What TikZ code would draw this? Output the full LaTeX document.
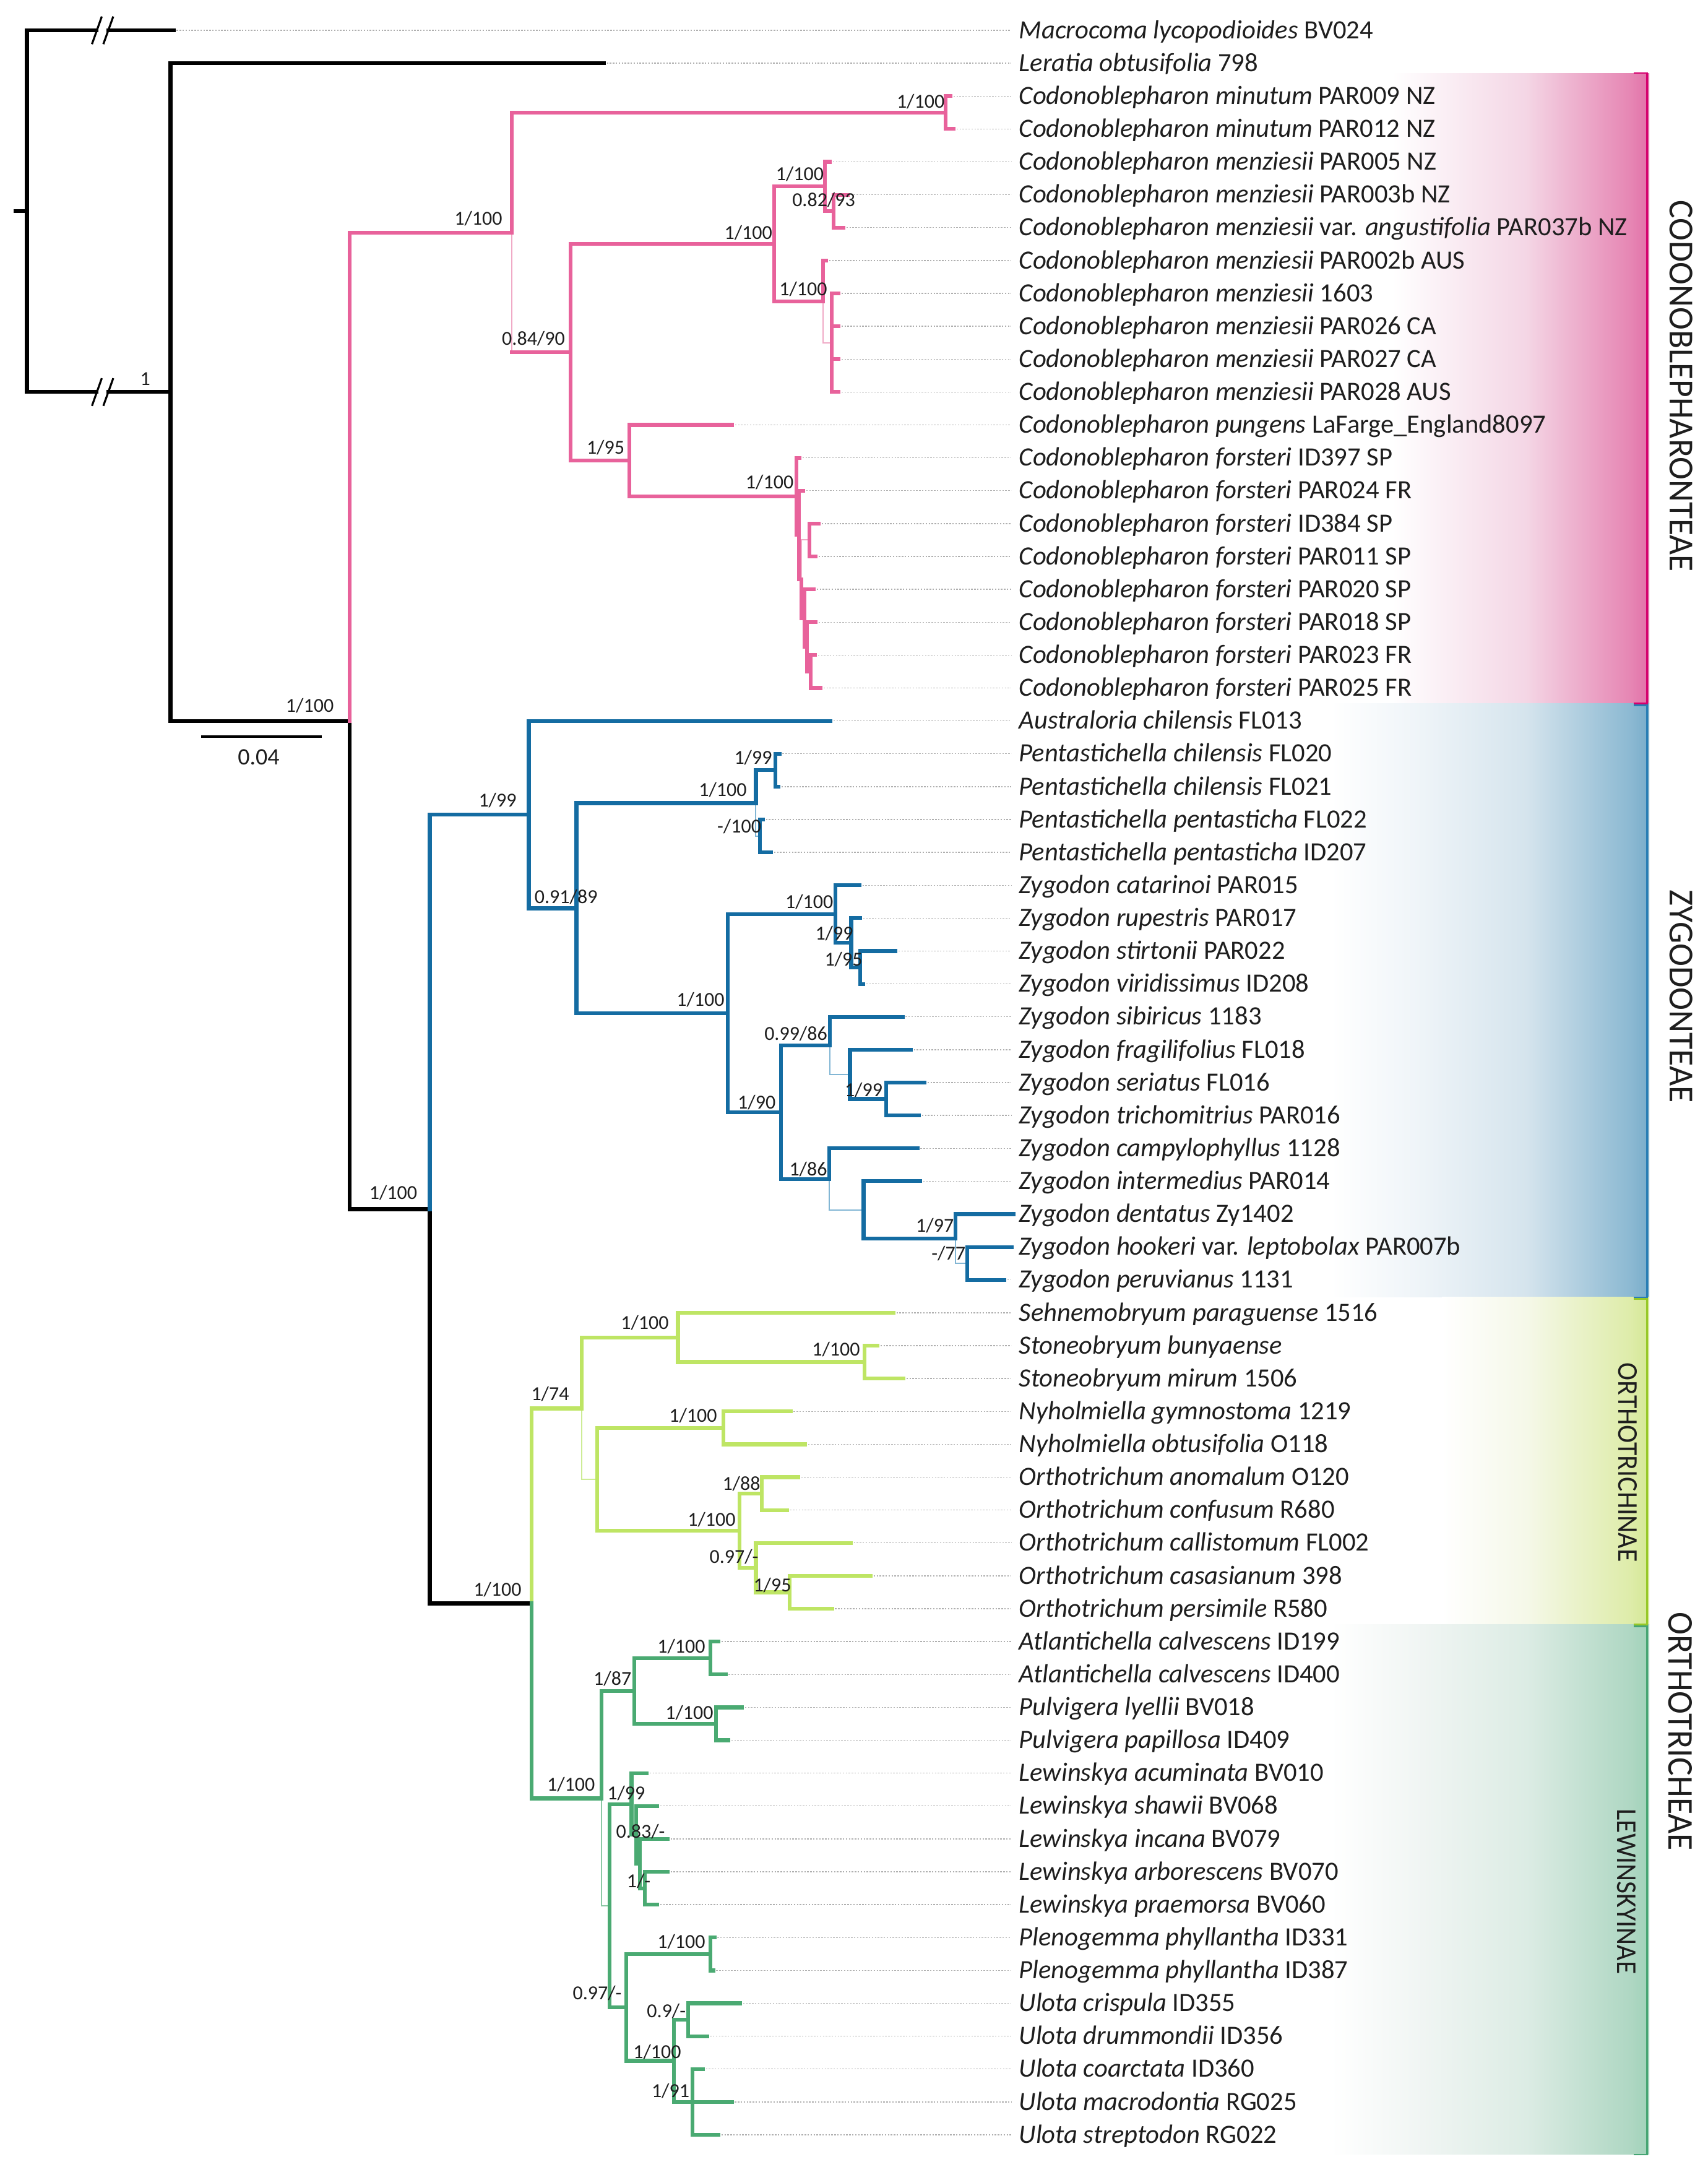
\documentclass[tikz,border=0pt]{standalone}
\usepackage{fontspec}
\setmainfont{Carlito}
\usepackage{graphicx}
\definecolor{pk}{RGB}{232,98,155}
\definecolor{pkw}{RGB}{240,170,198}
\definecolor{bl}{RGB}{20,108,162}
\definecolor{blw}{RGB}{130,182,212}
\definecolor{lg}{RGB}{190,229,100}
\definecolor{lgw}{RGB}{205,236,150}
\definecolor{gn}{RGB}{74,170,114}
\definecolor{gnw}{RGB}{140,200,165}
\definecolor{guidec}{RGB}{175,175,175}
\definecolor{txt}{RGB}{30,30,30}
\definecolor{pkA}{RGB}{244,214,229}
\definecolor{pkB}{RGB}{230,135,180}
\definecolor{pkC}{RGB}{226,112,168}
\definecolor{pkL}{RGB}{213,0,110}
\definecolor{bA}{RGB}{238,244,248}
\definecolor{bB}{RGB}{213,228,237}
\definecolor{bC}{RGB}{140,185,210}
\definecolor{bD}{RGB}{120,172,202}
\definecolor{bL}{RGB}{40,125,180}
\definecolor{lA}{RGB}{245,248,232}
\definecolor{lB}{RGB}{222,236,170}
\definecolor{lC}{RGB}{212,232,150}
\definecolor{lL}{RGB}{150,200,40}
\definecolor{gA}{RGB}{240,245,243}
\definecolor{gB}{RGB}{220,236,228}
\definecolor{gC}{RGB}{175,215,195}
\definecolor{gD}{RGB}{160,210,185}
\definecolor{gL}{RGB}{70,165,115}
\pgfdeclarehorizontalshading{pinksh}{100bp}{color(0bp)=(white); color(25bp)=(white); color(51bp)=(pkA); color(71.15bp)=(pkB); color(75bp)=(pkC); color(100bp)=(pkC)}
\pgfdeclarehorizontalshading{bluesh}{100bp}{color(0bp)=(white); color(25bp)=(white); color(39.5bp)=(bA); color(55.75bp)=(bB); color(72bp)=(bC); color(75bp)=(bD); color(100bp)=(bD)}
\pgfdeclarehorizontalshading{lgsh}{100bp}{color(0bp)=(white); color(25bp)=(white); color(45.5bp)=(lA); color(70.25bp)=(lB); color(75bp)=(lC); color(100bp)=(lC)}
\pgfdeclarehorizontalshading{gnsh}{100bp}{color(0bp)=(white); color(25bp)=(white); color(39.5bp)=(gA); color(55.75bp)=(gB); color(72bp)=(gC); color(75bp)=(gD); color(100bp)=(gD)}
\newcommand\leaffont{\fontsize{10.65}{12}\selectfont}
\newcommand\supfont{\fontsize{8}{9.6}\selectfont}
\begin{document}
\begin{tikzpicture}[x=0.25pt,y=-13.28125pt,
  bk/.style={line width=1.55pt,black,line cap=rect},
  pkb/.style={line width=1.55pt,pk,line cap=rect},
  blb/.style={line width=1.55pt,bl,line cap=rect},
  lgb/.style={line width=1.55pt,lg,line cap=rect},
  gnb/.style={line width=1.55pt,gn,line cap=rect},
  pkweak/.style={line width=0.5pt,pkw},
  blweak/.style={line width=0.5pt,blw},
  lgweak/.style={line width=0.5pt,lgw},
  gnweak/.style={line width=0.5pt,gnw},
  guide/.style={line width=0.35pt,guidec,dash pattern=on 0.6pt off 0.6pt,shorten >=1.5pt},
  leaf/.style={anchor=base west,inner sep=1.5pt,yshift=-3.3pt,font=\leaffont,text=txt},
  sup/.style={inner sep=0pt,font=\supfont,text=txt},
  slash/.style={line width=0.8pt,black},
  bracketline/.style={line width=0.7pt},
]
\useasboundingbox (0,-0.9224) rectangle (2760,65.3741);

% ---------- clade bands ----------
\shade[shading=pinksh] (2250,1.3) rectangle (2665,20.47);
\shade[shading=bluesh] (2150,20.47) rectangle (2665,38.53);
\shade[shading=lgsh] (2330,38.53) rectangle (2665,48.48);
\shade[shading=gnsh] (2150,48.48) rectangle (2665,64.6);
\draw[bracketline,pkL] (2640,1.3) -- (2661.7,1.3) -- (2661.7,20.47) -- (2640,20.47);
\draw[bracketline,bL] (2640,20.52) -- (2661.7,20.52) -- (2661.7,38.53) -- (2640,38.53);
\draw[bracketline,lL] (2640,38.58) -- (2661.7,38.58) -- (2661.7,48.48) -- (2640,48.48);
\draw[bracketline,gL] (2640,48.53) -- (2661.7,48.53) -- (2661.7,64.6) -- (2640,64.6);

\node[rotate=-90,inner sep=0pt,text=txt] (g1) at (2716.5,10.82) {\resizebox{150pt}{9.2pt}{CODONOBLEPHARONTEAE}};
\node[rotate=-90,inner sep=0pt,text=txt] (g2) at (2716.5,29.38) {\resizebox{86pt}{9.2pt}{ZYGODONTEAE}};
\node[rotate=-90,inner sep=0pt,text=txt] (g3) at (2630,43.55) {\resizebox{80.5pt}{7.5pt}{ORTHOTRICHINAE}};
\node[rotate=-90,inner sep=0pt,text=txt] (g4) at (2628,56.6) {\resizebox{66.7pt}{7.5pt}{LEWINSKYINAE}};
\node[rotate=-90,inner sep=0pt,text=txt] (g5) at (2715.5,51.73) {\resizebox{96.5pt}{9.5pt}{ORTHOTRICHEAE}};

% ---------- internal nodes ----------
\coordinate (stub) at (25.5,5.5);
\coordinate (root) at (43.4,5.5);
\coordinate (I) at (275.5,11);
\coordinate (X) at (565,21);
\coordinate (R) at (694.5,35.85);
\coordinate (O) at (859,47.84);
% Codonoblepharonteae
\coordinate (Cn) at (827,6.15);
\coordinate (Mi) at (1528,2.5);
\coordinate (C2) at (922,9.79);
\coordinate (M) at (1251,6.5);
\coordinate (M1) at (1332.6,4.75);
\coordinate (M1b) at (1347,5.5);
\coordinate (M2) at (1329.7,8.25);
\coordinate (M2b) at (1344,9.5);
\coordinate (F) at (1017,13.085);
\coordinate (Fo) at (1287,14.17);
\coordinate (Fo2) at (1291,15.34);
\coordinate (Fo3) at (1295,16.69);
\coordinate (P) at (1308,15.5);
\coordinate (Fo4) at (1300,17.875);
\coordinate (Fo5) at (1304,18.75);
\coordinate (Fo6) at (1310,19.5);
% Zygodonteae
\coordinate (Z) at (854.4,23.85);
\coordinate (Z2) at (931.5,26.7);
\coordinate (Pe) at (1221.4,23.5);
\coordinate (Pe1) at (1252.8,22.5);
\coordinate (Pe2) at (1228,24.5);
\coordinate (Zy) at (1175.9,29.89);
\coordinate (Zc) at (1350,26.875);
\coordinate (Zc2) at (1375.4,27.75);
\coordinate (Zc3) at (1390,28.5);
\coordinate (Zs) at (1261.6,32.91);
\coordinate (Zs1) at (1341.3,30.875);
\coordinate (Zs1b) at (1373.4,31.75);
\coordinate (Zs1c) at (1432.3,32.5);
\coordinate (Zs2) at (1340,34.94);
\coordinate (Zs2b) at (1395.5,35.875);
\coordinate (Zs2c) at (1544,36.75);
\coordinate (Zs2d) at (1563,37.5);
% Orthotrichinae
\coordinate (Oi) at (940,41.91);
\coordinate (Se) at (1095.5,39.75);
\coordinate (St) at (1396.8,40.5);
\coordinate (Ny) at (965,44.06);
\coordinate (Ny1) at (1169,42.5);
\coordinate (Or) at (1194.6,45.625);
\coordinate (Or1) at (1230.8,44.5);
\coordinate (Or2) at (1221.4,46.75);
\coordinate (Or3) at (1276.3,47.5);
% Lewinskyinae
\coordinate (Lw) at (971.6,53.77);
\coordinate (At) at (1025,50.5);
\coordinate (At1) at (1147.7,49.5);
\coordinate (Pu) at (1157,51.5);
\coordinate (L2) at (985,57.03);
\coordinate (Le) at (1020.5,53.94);
\coordinate (Le2) at (1028,54.875);
\coordinate (Le3) at (1034,55.75);
\coordinate (Le4) at (1042,56.5);
\coordinate (Pl) at (1011.8,60.125);
\coordinate (Pl1) at (1147.7,58.5);
\coordinate (U) at (1088.8,61.75);
\coordinate (U1) at (1112.2,60.5);
\coordinate (U2) at (1119,63);

% ---------- tips ----------
\foreach \r/\x in {0/280.6,1/975.8,2/1536,3/1541,4/1341,5/1370,6/1363,7/1335,8/1355,9/1355,10/1355,11/1355,
  12/1183,13/1292,14/1298,15/1323,16/1318,17/1315,18/1318,19/1317,20/1326,
  21/1342,22/1259.6,23/1258,24/1232.8,25/1246,26/1388.8,27/1390,28/1447,29/1395,
  30/1458.4,31/1471.8,32/1494,33/1485,34/1482.5,35/1487,36/1638,37/1634.5,38/1623,
  39/1443.7,40/1418,41/1460,42/1277.6,43/1301,44/1289.7,45/1271.6,46/1374.7,47/1406.9,48/1344.6,
  49/1161,50/1172.5,51/1199,52/1177,53/1045,54/1062,55/1078.8,56/1078.8,57/1062,
  58/1154.4,59/1152.5,60/1196,61/1142.4,62/1135.7,63/1182.5,64/1161}
  \coordinate (t\r) at (\x,\r);

% ---------- leaf labels ----------
\foreach \r/\lab in {
 0/{\textit{Macrocoma lycopodioides} BV024},
 1/{\textit{Leratia obtusifolia} 798},
 2/{\textit{Codonoblepharon minutum} PAR009 NZ},
 3/{\textit{Codonoblepharon minutum} PAR012 NZ},
 4/{\textit{Codonoblepharon menziesii} PAR005 NZ},
 5/{\textit{Codonoblepharon menziesii} PAR003b NZ},
 6/{\textit{Codonoblepharon menziesii} var. \textit{angustifolia} PAR037b NZ},
 7/{\textit{Codonoblepharon menziesii} PAR002b AUS},
 8/{\textit{Codonoblepharon menziesii} 1603},
 9/{\textit{Codonoblepharon menziesii} PAR026 CA},
 10/{\textit{Codonoblepharon menziesii} PAR027 CA},
 11/{\textit{Codonoblepharon menziesii} PAR028 AUS},
 12/{\textit{Codonoblepharon pungens} LaFarge\_England8097},
 13/{\textit{Codonoblepharon forsteri} ID397 SP},
 14/{\textit{Codonoblepharon forsteri} PAR024 FR},
 15/{\textit{Codonoblepharon forsteri} ID384 SP},
 16/{\textit{Codonoblepharon forsteri} PAR011 SP},
 17/{\textit{Codonoblepharon forsteri} PAR020 SP},
 18/{\textit{Codonoblepharon forsteri} PAR018 SP},
 19/{\textit{Codonoblepharon forsteri} PAR023 FR},
 20/{\textit{Codonoblepharon forsteri} PAR025 FR},
 21/{\textit{Australoria chilensis} FL013},
 22/{\textit{Pentastichella chilensis} FL020},
 23/{\textit{Pentastichella chilensis} FL021},
 24/{\textit{Pentastichella pentasticha} FL022},
 25/{\textit{Pentastichella pentasticha} ID207},
 26/{\textit{Zygodon catarinoi} PAR015},
 27/{\textit{Zygodon rupestris} PAR017},
 28/{\textit{Zygodon stirtonii} PAR022},
 29/{\textit{Zygodon viridissimus} ID208},
 30/{\textit{Zygodon sibiricus} 1183},
 31/{\textit{Zygodon fragilifolius} FL018},
 32/{\textit{Zygodon seriatus} FL016},
 33/{\textit{Zygodon trichomitrius} PAR016},
 34/{\textit{Zygodon campylophyllus} 1128},
 35/{\textit{Zygodon intermedius} PAR014},
 36/{\textit{Zygodon dentatus} Zy1402},
 37/{\textit{Zygodon hookeri} var. \textit{leptobolax} PAR007b},
 38/{\textit{Zygodon peruvianus} 1131},
 39/{\textit{Sehnemobryum paraguense} 1516},
 40/{\textit{Stoneobryum bunyaense}},
 41/{\textit{Stoneobryum mirum} 1506},
 42/{\textit{Nyholmiella gymnostoma} 1219},
 43/{\textit{Nyholmiella obtusifolia} O118},
 44/{\textit{Orthotrichum anomalum} O120},
 45/{\textit{Orthotrichum confusum} R680},
 46/{\textit{Orthotrichum callistomum} FL002},
 47/{\textit{Orthotrichum casasianum} 398},
 48/{\textit{Orthotrichum persimile} R580},
 49/{\textit{Atlantichella calvescens} ID199},
 50/{\textit{Atlantichella calvescens} ID400},
 51/{\textit{Pulvigera lyellii} BV018},
 52/{\textit{Pulvigera papillosa} ID409},
 53/{\textit{Lewinskya acuminata} BV010},
 54/{\textit{Lewinskya shawii} BV068},
 55/{\textit{Lewinskya incana} BV079},
 56/{\textit{Lewinskya arborescens} BV070},
 57/{\textit{Lewinskya praemorsa} BV060},
 58/{\textit{Plenogemma phyllantha} ID331},
 59/{\textit{Plenogemma phyllantha} ID387},
 60/{\textit{Ulota crispula} ID355},
 61/{\textit{Ulota drummondii} ID356},
 62/{\textit{Ulota coarctata} ID360},
 63/{\textit{Ulota macrodontia} RG025},
 64/{\textit{Ulota streptodon} RG022}}
  \node[leaf] (n\r) at (1640,\r) {\lab};

% ---------- guides ----------
\foreach \r in {0,...,64} \draw[guide] (t\r) -- (n\r.base west |- t\r);

% ---------- weak branches ----------
\draw[pkweak] (Cn) |- (C2);
\draw[pkweak] (M2) |- (M2b);
\draw[pkweak] (Fo3) |- (P);
\draw[blweak] (Pe) |- (Pe2);
\draw[blweak] (Zs1) |- (Zs1b);
\draw[blweak] (Zs2) |- (Zs2b);
\draw[blweak] (Zs2c) |- (Zs2d);
\draw[lgweak] (Oi) |- (Ny);
\draw[gnweak] (Lw) |- (L2);
\draw[pkb] (Cn|-C2) -- (C2);

% ---------- backbone ----------
\coordinate (b1) at (156,0);
\coordinate (b2) at (175,0);
\coordinate (b3) at (156,11);
\coordinate (b4) at (175,11);
\draw[bk] (stub) -- (root);
\draw[bk] (root) |- (b1);
\draw[bk] (b2) -- (t0);
\draw[bk] (root) |- (b3);
\draw[bk] (b4) -- (I);
\foreach \yy in {0,11} {
  \draw[slash] (148.6,\yy+0.42) -- (164.5,\yy-0.42);
  \draw[slash] (167,\yy+0.42) -- (183,\yy-0.42);
}
\foreach \p/\c in {I/t1,I/X,X/R,R/O} \draw[bk] (\p) |- (\c);

% ---------- clades ----------
\foreach \p/\c in {X/Cn,Cn/Mi,Mi/t2,Mi/t3,C2/M,C2/F,M/M1,M/M2,M1/t4,M1/M1b,M1b/t5,M1b/t6,
  M2/t7,M2b/t8,M2b/t9,M2b/t10,M2b/t11,F/t12,F/Fo,Fo/t13,Fo/Fo2,Fo2/t14,Fo2/Fo3,Fo3/Fo4,
  P/t15,P/t16,Fo4/t17,Fo4/Fo5,Fo5/t18,Fo5/Fo6,Fo6/t19,Fo6/t20}
  \draw[pkb] (\p) |- (\c);
\foreach \p/\c in {R/Z,Z/t21,Z/Z2,Z2/Pe,Z2/Zy,Pe/Pe1,Pe1/t22,Pe1/t23,Pe2/t24,Pe2/t25,
  Zy/Zc,Zy/Zs,Zc/t26,Zc/Zc2,Zc2/t27,Zc2/Zc3,Zc3/t28,Zc3/t29,Zs/Zs1,Zs/Zs2,Zs1/t30,
  Zs1b/t31,Zs1b/Zs1c,Zs1c/t32,Zs1c/t33,Zs2/t34,Zs2b/t35,Zs2b/Zs2c,Zs2c/t36,Zs2d/t37,Zs2d/t38}
  \draw[blb] (\p) |- (\c);
\foreach \p/\c in {O/Oi,Oi/Se,Se/t39,Se/St,St/t40,St/t41,Ny/Ny1,Ny/Or,Ny1/t42,Ny1/t43,
  Or/Or1,Or/Or2,Or1/t44,Or1/t45,Or2/t46,Or2/Or3,Or3/t47,Or3/t48}
  \draw[lgb] (\p) |- (\c);
\foreach \p/\c in {O/Lw,Lw/At,At/At1,At/Pu,At1/t49,At1/t50,Pu/t51,Pu/t52,L2/Le,L2/Pl,
  Le/t53,Le/Le2,Le2/t54,Le2/Le3,Le3/t55,Le3/Le4,Le4/t56,Le4/t57,Pl/Pl1,Pl/U,Pl1/t58,Pl1/t59,
  U/U1,U/U2,U1/t60,U1/t61,U2/t62,U2/t63,U2/t64}
  \draw[gnb] (\p) |- (\c);

% ---------- scale bar ----------
\coordinate (sb1) at (325,21.48);
\coordinate (sb2) at (520,21.48);
\draw[line width=0.9pt] (sb1) -- (sb2);
\node[inner sep=0pt,font=\fontsize{9.5}{11}\selectfont,text=txt] (sbl) at (418,22.1) {0.04};

% ---------- support values ----------
\node[sup] (s1) at (234.7,10.60) {1};
\node[sup] (s2) at (500.6,20.54) {1/100};
\node[sup] (s3) at (773,5.72) {1/100};
\node[sup] (s4) at (1487.6,2.16) {1/100};
\node[sup] (s5) at (862,9.37) {0.84/90};
\node[sup] (s6) at (1209.2,6.15) {1/100};
\node[sup] (s7) at (1292.4,4.36) {1/100};
\node[sup] (s8) at (1331,5.16) {0.82/93};
\node[sup] (s9) at (1298,7.87) {1/100};
\node[sup] (s10) at (978.5,12.68) {1/95};
\node[sup] (s11) at (1243.6,13.75) {1/100};
\node[sup] (s12) at (635.4,35.35) {1/100};
\node[sup] (s13) at (804,23.42) {1/99};
\node[sup] (s14) at (914.7,26.35) {0.91/89};
\node[sup] (s15) at (1168,23.09) {1/100};
\node[sup] (s16) at (1217,22.12) {1/99};
\node[sup] (s17) at (1194.6,24.20) {-/100};
\node[sup] (s18) at (1132,29.48) {1/100};
\node[sup] (s19) at (1307.7,26.50) {1/100};
\node[sup] (s20) at (1348,27.46) {1/99};
\node[sup] (s21) at (1363,28.25) {1/95};
\node[sup] (s22) at (1222.7,32.61) {1/90};
\node[sup] (s23) at (1286,30.51) {0.99/86};
\node[sup] (s24) at (1395.5,32.23) {1/99};
\node[sup] (s25) at (1306,34.64) {1/86};
\node[sup] (s26) at (1510.7,36.35) {1/97};
\node[sup] (s27) at (1532.7,37.19) {-/77};
\node[sup] (s28) at (804,47.42) {1/100};
\node[sup] (s29) at (889,41.47) {1/74};
\node[sup] (s30) at (1042,39.30) {1/100};
\node[sup] (s31) at (1351,40.11) {1/100};
\node[sup] (s32) at (1120,42.12) {1/100};
\node[sup] (s33) at (1150,45.29) {1/100};
\node[sup] (s34) at (1198,44.20) {1/88};
\node[sup] (s35) at (1186,46.42) {0.97/-};
\node[sup] (s36) at (1248,47.28) {1/95};
\node[sup] (s37) at (922.7,53.35) {1/100};
\node[sup] (s38) at (989.7,50.13) {1/87};
\node[sup] (s39) at (1100.9,49.15) {1/100};
\node[sup] (s40) at (1114,51.17) {1/100};
\node[sup] (s41) at (1011.8,53.61) {1/99};
\node[sup] (s42) at (1035,54.77) {0.83/-};
\node[sup] (s43) at (1032,56.28) {1/-};
\node[sup] (s44) at (965,59.69) {0.97/-};
\node[sup] (s45) at (1100.9,58.12) {1/100};
\node[sup] (s46) at (1062,61.47) {1/100};
\node[sup] (s47) at (1076.8,60.23) {0.9/-};
\node[sup] (s48) at (1083.5,62.66) {1/91};
\end{tikzpicture}
\end{document}
